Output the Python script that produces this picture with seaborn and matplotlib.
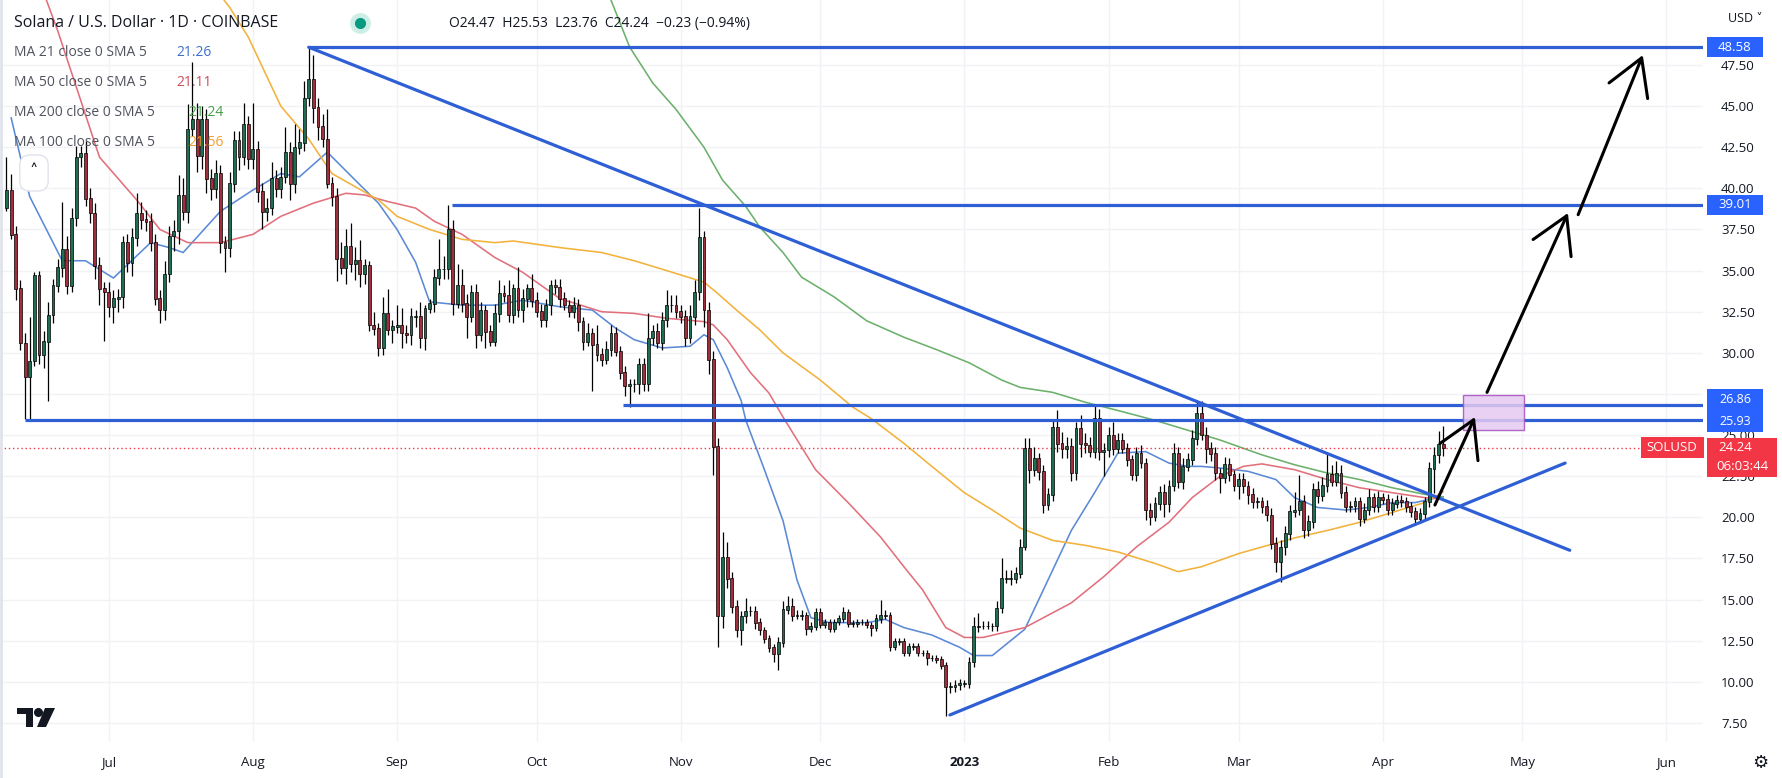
import numpy as np
import pandas as pd
import seaborn as sns
import matplotlib
matplotlib.use("Agg")
import matplotlib.pyplot as plt
from matplotlib.patches import Rectangle, FancyArrowPatch, Polygon
from matplotlib.lines import Line2D

W, H = 1783, 778
start = pd.Timestamp("2022-06-08")   # day 0 of the x axis

# daily candles, day 1 = 2022-06-09 ... day 310 = 2023-04-14 (open = previous close)
first_open = 38.8
closes = [
    39.9, 37.2, 33.9, 30.6, 28.55, 29.5, 34.7, 29.9, 30.7, 32.3,
    34.1, 35.2, 36.3, 34.1, 38.2, 41.9, 42.1, 39.4, 38.5, 35.3,
    33.9, 33.7, 32.8, 33.3, 33.4, 36.7, 35.5, 37.0, 38.5, 38.1,
    38.0, 36.7, 33.3, 32.6, 34.8, 37.1, 37.4, 39.6, 38.6, 43.6,
    44.2, 42.0, 44.2, 40.6, 40.0, 40.9, 36.7, 36.4, 40.3, 42.9,
    41.9, 43.9, 41.8, 42.4, 39.8, 38.6, 38.8, 40.6, 40.0, 40.7,
    42.2, 40.3, 42.5, 42.8, 45.5, 46.6, 44.9, 43.75, 43.0, 40.3,
    39.5, 35.75, 35.2, 36.5, 35.4, 35.65, 34.8, 35.3, 31.7, 31.5,
    30.3, 32.4, 31.4, 31.6, 31.7, 31.2, 31.1, 32.2, 32.2, 30.9,
    32.7, 33.0, 34.6, 35.1, 35.1, 37.5, 33.0, 34.1, 33.0, 32.2,
    33.7, 31.1, 32.6, 31.3, 30.7, 32.4, 33.6, 33.5, 32.3, 33.9,
    32.6, 33.3, 33.9, 33.2, 32.5, 32.0, 32.9, 34.1, 34.0, 33.3,
    32.9, 32.5, 32.9, 31.9, 30.7, 31.2, 30.5, 29.9, 29.6, 30.2,
    31.2, 30.1, 28.8, 28.0, 28.1, 28.1, 29.3, 28.1, 30.9, 31.3,
    30.6, 32.0, 32.9, 32.9, 32.5, 32.2, 30.9, 32.2, 33.7, 37.0,
    32.6, 29.6, 24.3, 14.0, 17.6, 16.3, 14.6, 13.15, 14.0, 14.3,
    14.3, 13.6, 13.15, 12.65, 12.1, 11.7, 12.4, 14.4, 14.6, 14.0,
    14.05, 14.05, 13.25, 13.35, 14.2, 13.45, 13.65, 13.25, 13.65, 13.85,
    14.25, 13.55, 13.55, 13.65, 13.65, 13.45, 13.3, 13.85, 14.05, 14.05,
    12.15, 12.45, 12.45, 11.75, 12.15, 12.15, 11.75, 11.75, 11.45, 11.45,
    11.35, 11.0, 9.7, 9.7, 9.8, 9.9, 9.9, 11.2, 13.35, 13.4,
    13.4, 13.4, 13.4, 14.5, 16.3, 16.3, 16.3, 16.6, 18.2, 24.2,
    22.9, 23.6, 22.8, 20.75, 21.4, 25.5, 24.5, 24.2, 24.3, 22.7,
    25.4, 24.5, 24.4, 24.0, 26.0, 24.0, 24.1, 25.0, 24.2, 24.7,
    24.2, 23.5, 22.6, 23.9, 23.3, 20.45, 20.05, 20.85, 21.5, 20.85,
    21.9, 23.9, 22.2, 23.1, 23.5, 24.8, 26.3, 25.0, 24.2, 23.9,
    22.7, 22.4, 23.2, 22.6, 21.9, 22.3, 21.9, 21.4, 20.95, 20.95,
    20.65, 20.15, 18.4, 17.3, 18.2, 19.0, 20.35, 20.45, 20.95, 19.25,
    19.75, 21.7, 21.3, 21.95, 22.6, 22.2, 22.7, 21.5, 20.65, 20.7,
    20.95, 19.95, 20.45, 21.2, 20.65, 21.2, 21.1, 20.45, 20.85, 21.05,
    20.95, 20.65, 20.35, 19.95, 20.25, 20.95, 22.98, 23.8, 24.47, 24.24,
]
up_wick = [
    2.0, 1.0, 0.5, 0.5, 0.6, 2.7, 0.2, 0.3, 0.6, 0.8,
    0.4, 0.5, 2.9, 0.8, 0.6, 0.7, 0.5, 0.8, 0.6, 0.6,
    0.5, 0.4, 0.6, 0.5, 0.5, 0.4, 0.5, 0.6, 1.2, 0.7,
    0.6, 0.5, 0.5, 0.5, 0.8, 0.6, 0.7, 1.2, 1.0, 1.5,
    3.5, 1.0, 0.8, 0.6, 0.6, 0.8, 0.5, 0.4, 0.7, 0.6,
    0.6, 1.3, 0.5, 2.8, 0.5, 0.5, 0.6, 1.0, 0.5, 0.6,
    1.5, 0.6, 1.4, 0.8, 1.0, 2.0, 1.5, 0.6, 0.8, 1.8,
    0.4, 0.5, 1.0, 1.0, 1.4, 0.8, 1.2, 0.4, 0.3, 0.8,
    0.3, 1.0, 1.5, 0.4, 1.2, 1.0, 0.5, 0.5, 0.4, 0.9,
    0.2, 0.3, 0.5, 1.8, 0.8, 1.5, 0.6, 1.3, 1.0, 0.6,
    0.4, 0.5, 0.5, 0.3, 0.4, 0.6, 0.8, 0.5, 0.9, 0.3,
    1.3, 0.6, 0.3, 0.9, 0.5, 0.5, 0.4, 0.3, 0.4, 0.5,
    0.4, 0.3, 0.5, 0.4, 0.3, 0.6, 0.3, 1.2, 0.4, 0.5,
    0.5, 0.4, 0.3, 0.4, 0.3, 0.3, 0.4, 0.4, 1.5, 0.4,
    0.5, 0.5, 0.9, 0.6, 0.6, 0.4, 0.4, 0.7, 0.7, 1.8,
    0.4, 0.5, 0.5, 0.5, 1.5, 0.9, 0.4, 0.4, 0.3, 0.8,
    0.3, 0.3, 0.3, 0.2, 0.2, 0.2, 0.3, 0.5, 0.6, 0.5,
    0.3, 0.3, 0.2, 0.3, 0.3, 0.3, 0.2, 0.2, 0.2, 0.2,
    0.3, 0.2, 0.2, 0.2, 0.2, 0.2, 0.2, 0.3, 0.9, 0.3,
    0.2, 0.2, 0.2, 0.2, 0.2, 0.2, 0.2, 0.2, 0.2, 0.2,
    0.2, 0.2, 0.2, 0.3, 0.3, 0.3, 0.2, 0.3, 0.6, 0.8,
    0.3, 0.3, 0.2, 0.4, 1.2, 0.5, 0.5, 0.4, 0.5, 0.6,
    0.6, 0.7, 0.3, 0.4, 0.4, 0.5, 1.0, 0.7, 0.6, 0.5,
    0.4, 0.8, 0.6, 0.5, 0.8, 0.6, 0.4, 0.5, 0.8, 0.4,
    0.4, 0.3, 0.3, 0.4, 0.5, 0.3, 0.4, 0.4, 0.4, 0.5,
    0.4, 0.6, 0.4, 0.5, 0.4, 0.5, 0.8, 0.8, 0.5, 0.4,
    0.4, 0.3, 0.5, 0.4, 0.3, 0.4, 0.4, 0.3, 0.4, 0.3,
    0.3, 0.4, 0.4, 0.4, 0.4, 0.5, 0.4, 1.1, 1.6, 0.4,
    0.4, 0.4, 0.5, 0.5, 1.4, 0.6, 0.7, 0.5, 0.4, 0.3,
    0.3, 0.3, 0.4, 0.5, 0.3, 0.4, 0.3, 0.3, 0.3, 0.3,
    0.3, 0.3, 0.3, 0.3, 0.3, 0.3, 0.4, 0.5, 0.8, 1.1,
]
down_wick = [
    0.2, 0.3, 0.7, 0.4, 2.6, 2.6, 0.3, 0.6, 0.8, 3.6,
    0.5, 0.4, 0.6, 0.5, 0.4, 0.5, 0.6, 0.5, 0.6, 0.8,
    1.0, 3.0, 0.6, 1.0, 0.8, 0.7, 0.6, 0.8, 0.5, 0.6,
    0.6, 0.5, 0.4, 0.8, 0.6, 0.5, 0.9, 0.8, 0.5, 0.7,
    0.4, 1.0, 0.8, 0.9, 0.7, 0.6, 0.6, 1.5, 0.6, 0.5,
    0.8, 0.5, 0.6, 0.6, 0.6, 1.1, 0.6, 0.4, 0.5, 0.6,
    0.4, 1.0, 0.6, 0.4, 0.5, 0.5, 0.9, 0.8, 0.5, 0.3,
    0.6, 1.4, 0.4, 1.0, 0.5, 1.0, 0.8, 0.6, 0.4, 0.4,
    0.5, 0.4, 0.3, 0.8, 0.4, 0.9, 0.5, 0.6, 0.6, 0.6,
    0.7, 0.3, 0.5, 0.5, 0.6, 0.6, 0.7, 0.3, 0.5, 1.3,
    0.3, 0.8, 0.4, 1.0, 0.3, 0.3, 0.5, 0.4, 0.4, 0.5,
    0.4, 0.7, 0.5, 0.4, 0.3, 0.4, 0.4, 0.6, 0.4, 0.5,
    0.3, 0.3, 0.4, 0.6, 0.5, 0.3, 2.8, 0.4, 0.4, 0.3,
    0.4, 0.3, 0.4, 0.6, 1.3, 0.5, 0.6, 0.4, 0.4, 0.4,
    0.3, 0.4, 0.4, 0.4, 0.4, 0.4, 0.5, 0.3, 0.5, 0.5,
    1.0, 0.9, 1.7, 1.9, 0.7, 0.6, 0.4, 0.4, 0.9, 0.4,
    0.3, 0.4, 0.3, 0.3, 0.3, 0.5, 1.0, 0.3, 0.3, 0.3,
    0.2, 0.3, 0.4, 0.2, 0.2, 0.2, 0.2, 0.2, 0.2, 0.2,
    0.2, 0.2, 0.2, 0.2, 0.2, 0.2, 0.5, 0.2, 0.3, 0.2,
    0.3, 0.2, 0.2, 0.2, 0.2, 0.2, 0.2, 0.2, 0.4, 0.2,
    0.2, 0.2, 1.8, 0.4, 0.3, 0.3, 0.2, 0.3, 0.3, 0.3,
    0.2, 0.2, 0.3, 0.3, 0.3, 0.3, 0.4, 0.3, 0.3, 0.2,
    0.8, 0.4, 0.5, 0.5, 0.3, 0.4, 0.5, 0.6, 0.6, 0.5,
    0.4, 0.8, 0.5, 0.3, 0.4, 0.5, 1.5, 0.4, 0.4, 0.3,
    0.3, 0.4, 0.3, 0.4, 0.3, 0.6, 0.5, 0.3, 0.4, 0.8,
    0.5, 0.3, 0.4, 0.5, 0.3, 0.3, 0.4, 0.3, 0.9, 0.5,
    0.4, 0.9, 0.3, 0.4, 0.3, 0.8, 0.4, 0.6, 0.4, 0.4,
    0.4, 0.4, 0.3, 0.6, 1.2, 0.5, 0.4, 0.3, 0.3, 0.5,
    0.4, 0.4, 0.4, 0.3, 0.4, 0.3, 0.3, 0.3, 0.3, 0.3,
    0.4, 0.5, 0.3, 0.3, 0.3, 0.3, 0.3, 0.3, 0.3, 0.3,
    0.3, 0.3, 0.3, 0.3, 0.3, 0.4, 0.3, 1.5, 0.5, 0.5,
]

# moving averages (day offset, value)
ma21_days = [2, 6, 13, 18, 24, 32, 36, 39, 47, 54, 60, 64, 70, 76, 81, 85, 89, 92, 99, 106,
             112, 120, 127, 132, 136, 142, 148, 151, 153, 156, 159, 160, 164, 168, 171, 174,
             178, 186, 190, 194, 200, 206, 209, 213, 220, 226, 230, 235, 240, 246, 251, 255,
             258, 262, 268, 274, 278, 283, 289, 294, 299, 304, 307, 310]
ma21_vals = [44.3, 39.5, 35.6, 35.6, 34.55, 36.7, 36.4, 36.1, 38.6, 39.9, 40.9, 40.7, 42.2, 40.5,
             39.1, 37.5, 35.5, 33.1, 32.9, 32.9, 33.2, 32.8, 32.6, 31.5, 30.8, 30.3, 30.4, 31.1,
             30.8, 29.1, 27.1, 25.9, 22.9, 19.8, 16.2, 13.9, 13.6, 13.6, 13.8, 13.3, 12.85, 12.1,
             11.6, 11.6, 13.2, 16.8, 19.2, 21.5, 23.9, 24.0, 23.3, 23.1, 23.1, 23.0, 22.8, 22.3,
             21.2, 20.6, 20.45, 20.6, 20.9, 20.9, 21.1, 21.26]
ma50_days = [1, 12, 21, 29, 34, 40, 47, 54, 60, 67, 74, 78, 83, 89, 93, 99, 106, 112, 120, 129,
             136, 143, 151, 153, 156, 161, 165, 168, 175, 182, 189, 194, 198, 203, 207, 211, 220,
             230, 237, 244, 251, 256, 262, 267, 271, 278, 285, 292, 299, 306, 310]
ma50_vals = [58.0, 49.6, 41.9, 39.3, 37.5, 36.7, 36.7, 37.2, 38.3, 39.1, 39.7, 39.6, 39.2, 38.8,
             38.0, 37.2, 35.8, 34.9, 33.3, 32.5, 32.4, 32.1, 31.9, 31.7, 30.8, 28.8, 27.55, 26.1,
             22.9, 20.9, 18.8, 17.0, 15.6, 13.3, 12.7, 12.7, 13.3, 14.8, 16.4, 18.2, 19.7, 21.2,
             22.5, 23.1, 23.25, 22.9, 22.3, 21.8, 21.5, 21.2, 21.11]
ma100_days = [1, 30, 49, 53, 60, 66, 71, 76, 81, 85, 92, 99, 106, 110, 120, 129, 136, 143, 151,
              154, 158, 163, 168, 176, 183, 187, 194, 200, 207, 213, 219, 226, 233, 240, 248, 253,
              258, 266, 271, 278, 285, 292, 299, 306, 310]
ma100_vals = [75.0, 58.0, 51.0, 49.2, 45.0, 43.0, 40.9, 40.1, 39.3, 38.3, 37.5, 36.9, 36.7, 36.8,
              36.4, 36.1, 35.6, 35.0, 34.3, 33.6, 32.6, 31.4, 30.0, 28.35, 26.7, 26.0, 24.5, 23.1,
              21.5, 20.45, 19.35, 18.6, 18.3, 17.9, 17.2, 16.7, 17.0, 17.8, 18.2, 18.75, 19.2,
              19.7, 20.3, 20.9, 21.56]
ma200_days = [125, 131, 135, 140, 145, 151, 155, 160, 163, 168, 172, 179, 186, 194, 201, 208, 215,
              219, 226, 233, 240, 248, 255, 262, 271, 278, 285, 292, 299, 306, 310]
ma200_vals = [55.0, 51.45, 48.6, 46.4, 44.8, 42.5, 40.5, 38.9, 37.65, 36.1, 34.6, 33.4, 31.95,
              30.95, 30.2, 29.4, 28.35, 27.9, 27.6, 27.0, 26.5, 25.9, 25.3, 24.7, 23.8, 23.2,
              22.7, 22.3, 21.8, 21.4, 21.24]

# drawn levels, trend lines, arrows and target box (day offsets, prices)
level_prices = [48.58, 39.01, 26.86, 25.93]
level_start_days = [66, 96.8, 133.6, 5.0]
trend_lines = [((66, 48.58), (337.2, 18.0)), ((203.9, 7.99), (336.2, 23.3))]
arrows = [((308.2, 20.75), (316.8, 26.1)), ((319.4, 27.6), (336.8, 38.5)),
          ((339.0, 38.4), (352.9, 48.1))]
target_box = (314.2, 327.4, 25.31, 27.44)
last_price = 24.24

# axis ticks; 27.50 sits fully under the level tags on the reference
price_ticks = [7.5, 10.0, 12.5, 15.0, 17.5, 20.0, 22.5, 25.0, 27.5, 30.0, 32.5, 35.0, 37.5,
               40.0, 42.5, 45.0, 47.5]
hidden_ticks = [27.5]

ma_specs = [("MA 21 close 0 SMA 5", "21.26", "#5b8ad6", "#3f6fd0"),
            ("MA 50 close 0 SMA 5", "21.11", "#e2707c", "#d04a58"),
            ("MA 200 close 0 SMA 5", "21.24", "#6cb06c", "#43a047"),
            ("MA 100 close 0 SMA 5", "21.56", "#f2b23c", "#f0a030")]

sns.set_theme(style="white")
plt.rcParams["font.family"] = ["Open Sans", "DejaVu Sans"]

days = np.arange(1, len(closes) + 1)
cl = np.array(closes)
op = np.concatenate([[first_open], cl[:-1]])
hi = np.maximum(op, cl) + np.array(up_wick)
lo = np.minimum(op, cl) - np.array(down_wick)
rising = cl >= op

fig = plt.figure(figsize=(W / 100, H / 100), dpi=100)
fig.patch.set_facecolor("white")
ax = fig.add_axes([0, 36 / H, 1703 / W, 742 / H])
ax.set_facecolor("white")
ax.set_xlim(-0.39, 365.85)
ax.set_ylim(6.345, 51.45)

months = pd.date_range("2022-07-01", "2023-06-01", freq="MS")
month_pos = (months - start).days.values
month_lab = ["2023" if m.month == 1 else m.strftime("%b") for m in months]
ax.set_xticks(month_pos)
ax.set_xticklabels(month_lab)
ax.set_yticks(price_ticks)
ax.set_yticklabels(["" if v in hidden_ticks else f"{v:.2f}" for v in price_ticks])
ax.grid(True, color="#f0f2f6", lw=1, zorder=0)
for s in ax.spines.values():
    s.set_visible(False)
ax.tick_params(axis="y", left=False, right=False, labelleft=False, labelright=True,
               pad=7, labelsize=9.5, labelcolor="#131722")
ax.tick_params(axis="x", bottom=False, pad=4, labelsize=9.5, labelcolor="#131722")
for t in ax.get_xticklabels():
    if t.get_text() == "2023":
        t.set_fontweight("bold")

# moving averages
for (name, val, lc, tc), d, v in zip(ma_specs, [ma21_days, ma50_days, ma200_days, ma100_days],
                                      [ma21_vals, ma50_vals, ma200_vals, ma100_vals]):
    sns.lineplot(x=d, y=v, ax=ax, color=lc, linewidth=1.15, estimator=None, sort=False,
                 legend=False, zorder=2)

# candles
ax.vlines(days, lo, hi, color="black", lw=0.9, zorder=3)
ax.bar(days, np.abs(cl - op) + 0.04, bottom=np.minimum(op, cl) - 0.02, width=0.62,
       color=np.where(rising, "#1f6e52", "#a02f3b"), edgecolor="black", linewidth=0.5, zorder=3)

# current price line
ax.axhline(last_price, color="#f23645", lw=1, linestyle=(0, (1, 2)), zorder=2)

BLUE = "#2f5fd5"
for p, s in zip(level_prices, level_start_days):
    ax.plot([s, 365.85], [p, p], color=BLUE, lw=2.3, zorder=4, solid_capstyle="butt")
for (a, b) in trend_lines:
    ax.plot([a[0], b[0]], [a[1], b[1]], color=BLUE, lw=2.3, zorder=4, solid_capstyle="round")

x0, x1, y0, y1 = target_box
ax.add_patch(Rectangle((x0, y0), x1 - x0, y1 - y0, facecolor="#e4c9f0", edgecolor="#a450bf",
                       lw=1, alpha=0.85, zorder=4))
for a, b in arrows:
    ax.add_patch(FancyArrowPatch(a, b, arrowstyle="->,head_length=0.85,head_width=0.5",
                                 mutation_scale=30, lw=2.2, color="black", shrinkA=0, shrinkB=0,
                                 zorder=6))


def fx(x):
    return x / W


def fy(y):
    return 1 - y / H


def ypix(value):
    return H - ax.transData.transform((0, value))[1]


def box(xa, ya, xb, yb, color):
    fig.add_artist(Rectangle((fx(xa), fy(yb)), fx(xb) - fx(xa), fy(ya) - fy(yb),
                             transform=fig.transFigure, facecolor=color, edgecolor="none",
                             zorder=10))


def label(x, y, s, **kw):
    fig.text(fx(x), fy(y), s, ha="center", va="center", zorder=11, **kw)


# price labels on the axis
box(1707, ypix(48.58) - 10, 1763, ypix(48.58) + 10, "#2962ff")
label(1735, ypix(48.58), "48.58", color="white", fontsize=9.5)
box(1707, ypix(39.01) - 10, 1763, ypix(39.01) + 10, "#2962ff")
label(1735, ypix(39.01), "39.01", color="white", fontsize=9.5)
y_hi, y_lo = ypix(26.86) - 5, ypix(25.93) + 2
box(1707, y_hi - 10.5, 1763, y_lo + 10.5, "#2962ff")
label(1735, y_hi, "26.86", color="white", fontsize=9)
label(1735, y_lo, "25.93", color="white", fontsize=9)
yp = ypix(last_price)
box(1707, yp - 10, 1777, yp + 29, "#f23645")
label(1735, yp, f"{last_price:.2f}", color="white", fontsize=9.5)
label(1742, yp + 19, "06:03:44", color="white", fontsize=9.5)
box(1641, yp - 10.5, 1704, yp + 10.5, "#f23645")
label(1672, yp, "SOLUSD", color="white", fontsize=9.5)

# header / legend
fig.text(fx(14), fy(23), "Solana / U.S. Dollar · 1D · COINBASE", fontsize=11.5,
         color="#131722", va="center")
fig.add_artist(Line2D([fx(360)], [fy(23)], marker="o", markersize=14, color="#cdeee6",
                      transform=fig.transFigure))
fig.add_artist(Line2D([fx(360)], [fy(23)], marker="o", markersize=7, color="#089981",
                      transform=fig.transFigure))
fig.text(fx(449), fy(23), "O24.47  H25.53  L23.76  C24.24  \u22120.23 (\u22120.94%)",
         fontsize=10, color="#131722", va="center")
for i, (name, val, lc, tc) in enumerate(ma_specs):
    yy = 53 + 30 * i
    fig.text(fx(14), fy(yy), name, fontsize=10, color="#50535e", va="center")
    fig.text(fx(176 if i < 2 else 188), fy(yy), val, fontsize=10, color=tc, va="center")
fig.text(fx(34), fy(173), "\u02c4", fontsize=12, color="#131722", ha="center", va="center",
         bbox=dict(boxstyle="round,pad=0.6", fc="white", ec="#e0e3eb"))
fig.text(fx(1745), fy(18), "USD \u02c5", fontsize=9, color="#131722", ha="center", va="center")
fig.text(fx(1760), fy(763), "\u2699", fontsize=13, color="#131722", ha="center", va="center",
         family="DejaVu Sans")

# TradingView logo and window edge
logo = "#131722"
fig.add_artist(Polygon([(fx(17), fy(708)), (fx(33), fy(708)), (fx(33), fy(727)),
                        (fx(26), fy(727)), (fx(26), fy(714)), (fx(17), fy(714))],
                       closed=True, transform=fig.transFigure, fc=logo, ec="none"))
fig.add_artist(Line2D([fx(38)], [fy(712)], marker="o", markersize=5.5, color=logo,
                      transform=fig.transFigure))
fig.add_artist(Polygon([(fx(45), fy(708)), (fx(55), fy(708)), (fx(46), fy(727)),
                        (fx(37), fy(727))],
                       closed=True, transform=fig.transFigure, fc=logo, ec="none"))
fig.add_artist(Line2D([fx(1.5), fx(1.5)], [0, 1], color="#e0e3eb", lw=2,
                      transform=fig.transFigure))

fig.savefig("out.png", dpi=100, facecolor="white")
